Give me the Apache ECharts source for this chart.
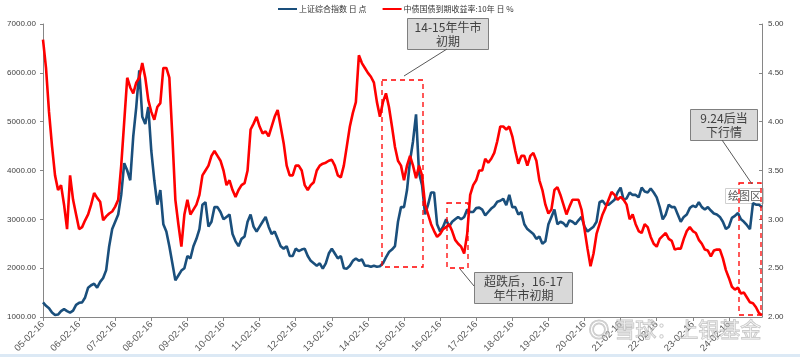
<!DOCTYPE html>
<html><head><meta charset="utf-8">
<script src="https://cdn.jsdelivr.net/npm/echarts@6/dist/echarts.min.js"></script>
<style>html,body{margin:0;padding:0;background:#fff}#c{width:800px;height:357px}</style>
</head><body><div id="c"></div>
<script>
// Monthly samples (mid-month), Feb 2005 .. Jan 2025
const startYear = 2005, startMonth = 2, monthCount = 240;

// 上证综合指数 (points)
const sseIndex = [
  1300,1230,1180,1090,1040,1050,1120,1160,1120,1090,1130,
  1250,1290,1300,1400,1600,1650,1680,1600,1720,1800,1960,2450,
  2800,2950,3100,3500,4150,4000,3800,4700,5300,6050,5100,4950,
  5300,4400,3800,3300,3600,2900,2750,2450,2100,1750,1850,1950,
  2000,2250,2200,2450,2600,2800,3300,3350,2850,2950,3250,3250,
  3150,3000,3050,3100,2700,2550,2450,2600,2650,2950,3100,2850,
  2750,2850,2950,3050,2850,2700,2750,2600,2450,2400,2450,2250,
  2250,2400,2350,2380,2400,2250,2150,2100,2050,2100,1990,2100,
  2300,2400,2300,2200,2250,2000,1990,2050,2150,2200,2150,2180,
  2050,2050,2030,2050,2030,2040,2100,2220,2330,2380,2450,2950,
  3250,3250,3600,4200,4600,5150,3950,3700,3100,3300,3550,3550,
  2900,2750,2850,3000,2850,2950,3000,3050,3000,3050,3200,3150,
  3150,3230,3240,3200,3080,3150,3220,3270,3360,3380,3420,3290,
  3500,3250,3250,3100,3150,2900,2800,2750,2700,2600,2650,2500,
  2550,2900,3050,3200,2900,2950,2920,2850,2980,2950,2900,2980,
  3050,2850,2750,2800,2850,2950,3350,3380,3300,3300,3350,3400,
  3550,3650,3400,3430,3550,3500,3500,3450,3650,3570,3550,3630,
  3550,3450,3250,3000,3100,3300,3250,3250,3100,2950,3050,3100,
  3230,3280,3250,3350,3250,3200,3250,3180,3120,3100,3050,2950,
  2800,2850,3030,3070,3130,3000,2950,2880,2800,3330,3300,3300,
  3250
];

// 中债国债到期收益率:10年 (%)
const cgb10y = [
  4.84,4.55,4.10,3.75,3.45,3.30,3.35,3.15,2.90,3.45,3.20,
  3.05,2.90,2.92,2.99,3.05,3.15,3.27,3.22,3.18,2.99,3.03,3.06,
  3.08,3.13,3.20,3.55,4.00,4.45,4.35,4.29,4.40,4.45,4.60,4.45,
  4.22,4.10,4.02,4.15,4.19,4.55,4.55,4.45,3.85,3.20,2.95,2.72,
  3.05,3.20,3.05,3.10,3.15,3.25,3.45,3.50,3.55,3.65,3.70,3.65,
  3.60,3.50,3.35,3.40,3.30,3.23,3.30,3.35,3.37,3.50,3.92,3.98,
  4.05,3.95,3.88,3.90,3.85,3.95,4.05,4.12,3.95,3.78,3.55,3.45,
  3.45,3.55,3.55,3.50,3.35,3.30,3.35,3.38,3.50,3.55,3.57,3.58,
  3.60,3.61,3.55,3.45,3.43,3.55,3.75,3.95,4.09,4.20,4.68,4.60,
  4.55,4.50,4.46,4.40,4.20,4.05,4.20,4.29,4.15,3.95,3.74,3.60,
  3.55,3.40,3.55,3.65,3.55,3.42,3.55,3.45,3.15,3.05,2.95,2.88,
  2.82,2.85,2.90,2.92,2.95,2.88,2.79,2.75,2.72,2.65,2.85,3.25,
  3.35,3.40,3.50,3.50,3.62,3.58,3.62,3.68,3.80,3.95,3.95,3.92,
  3.95,3.85,3.70,3.57,3.65,3.65,3.55,3.65,3.68,3.60,3.40,3.30,
  3.15,3.06,3.10,3.30,3.33,3.25,3.15,3.05,3.13,3.20,3.20,3.20,
  3.10,2.90,2.70,2.52,2.65,2.85,2.95,3.05,3.12,3.20,3.28,3.25,
  3.20,3.23,3.20,3.15,3.00,3.05,2.95,2.88,2.86,2.95,2.92,2.82,
  2.75,2.72,2.80,2.83,2.86,2.80,2.78,2.69,2.70,2.70,2.80,2.88,
  2.92,2.88,2.86,2.79,2.75,2.69,2.68,2.62,2.68,2.69,2.69,2.60,
  2.48,2.40,2.31,2.28,2.30,2.24,2.25,2.20,2.15,2.14,2.10,2.04,
  2.02
];

const seriesNames = ['上证综合指数 日 点', '中债国债到期收益率:10年 日 %'];

const categories = [];
for (let i = 0; i < monthCount; i++) {
  const t = startMonth - 1 + i;
  const y = startYear + Math.floor(t / 12);
  const m = t % 12 + 1;
  categories.push(String(y % 100).padStart(2, '0') + '-' + String(m).padStart(2, '0') + '-16');
}

const chart = echarts.init(document.getElementById('c'));
const cjk = '"Noto Sans CJK SC", sans-serif';
const lat = '"Liberation Sans", Arial, sans-serif';

function box(x, y, w, h, lines, opts) {
  opts = opts || {};
  return {
    type: 'group', left: x, top: y, z: 100,
    children: [
      { type: 'rect', shape: { x: 0, y: 0, width: w, height: h },
        style: { fill: opts.fill || '#d9d9d9', stroke: opts.stroke || '#7f7f7f', lineWidth: 1 } },
      { type: 'text', x: w / 2, y: h / 2,
        style: { text: lines, fill: opts.color || '#404040', font: (opts.size || 12) + 'px ' + cjk,
                 align: 'center', verticalAlign: 'middle', lineHeight: opts.lh || 14 } }
    ]
  };
}
function dashRect(x1, y1, x2, y2) {
  return { type: 'rect', z: 90, shape: { x: x1, y: y1, width: x2 - x1, height: y2 - y1 },
    style: { fill: 'none', stroke: '#ff0000', lineWidth: 1.3, lineDash: [5, 4] } };
}
function leader(x1, y1, x2, y2) {
  return { type: 'line', z: 95, shape: { x1: x1, y1: y1, x2: x2, y2: y2 },
    style: { stroke: '#595959', lineWidth: 1 } };
}

chart.setOption({
  animation: false,
  backgroundColor: '#ffffff',
  legend: {
    top: 0, left: 273, itemGap: 16, itemWidth: 19, itemHeight: 2,
    icon: 'rect',
    textStyle: { fontSize: 8, color: '#333', fontFamily: cjk, padding: [0, 0, 0, -3] },
    data: seriesNames
  },
  grid: { left: 43, right: 38, top: 24, bottom: 40 },
  xAxis: {
    type: 'category', data: categories, boundaryGap: false,
    axisLine: { lineStyle: { color: '#868686', width: 1 } },
    axisTick: { interval: 11, length: 4, lineStyle: { color: '#868686' } },
    axisLabel: { interval: 11, rotate: 45, fontSize: 9.5, color: '#595959', fontFamily: lat, margin: 6 },
    splitLine: { show: false }
  },
  yAxis: [
    { type: 'value', min: 1000, max: 7000, interval: 1000, position: 'left',
      axisLine: { show: true, lineStyle: { color: '#868686' } },
      axisTick: { show: true, length: 3, lineStyle: { color: '#868686' } },
      axisLabel: { fontSize: 8, color: '#404040', fontFamily: lat, margin: 7,
                   formatter: v => v.toFixed(2) },
      splitLine: { show: false } },
    { type: 'value', min: 2, max: 5, interval: 0.5, position: 'right',
      axisLine: { show: true, lineStyle: { color: '#868686' } },
      axisTick: { show: true, inside: true, length: 3, lineStyle: { color: '#868686' } },
      axisLabel: { fontSize: 8, color: '#404040', fontFamily: lat, margin: 6,
                   formatter: v => v.toFixed(2) },
      splitLine: { show: false } }
  ],
  series: [
    { name: seriesNames[0], type: 'line', data: sseIndex, yAxisIndex: 0,
      showSymbol: false, lineStyle: { color: '#1a4f7c', width: 2.6 }, itemStyle: { color: '#1a4f7c' } },
    { name: seriesNames[1], type: 'line', data: cgb10y, yAxisIndex: 1,
      showSymbol: false, lineStyle: { color: '#ff0000', width: 2.6 }, itemStyle: { color: '#ff0000' } }
  ],
  graphic: [
    dashRect(382, 80, 423, 267),
    dashRect(447, 203, 468, 268),
    dashRect(739, 183, 761, 315),
    leader(447, 49, 404, 76),
    leader(460, 269, 474, 286),
    leader(722, 140, 752, 184),
    box(407, 18, 81, 31, '14-15年牛市\n初期', { size: 12 }),
    box(474, 272, 98, 31, '超跌后，16-17\n年牛市初期', { size: 12 }),
    box(690, 109, 67, 31, '9.24后当\n下行情', { size: 12 }),
    box(725, 188, 38, 15, '绘图区', { fill: '#ffffff', stroke: '#d0d0d0', color: '#595959', size: 11, lh: 13 }),
    { type: 'text', left: 588, top: 318, z: 80, silent: true,
      style: { text: '◎ 雪球：上银基金', font: '21px ' + cjk, fill: 'rgba(255,255,255,0.3)',
               stroke: 'rgba(170,170,170,0.7)', lineWidth: 1 } },
    { type: 'rect', z: 1, shape: { x: 0, y: 354, width: 800, height: 3 },
      style: { fill: '#dce9f5' } }
  ]
});
</script>
</body></html>
